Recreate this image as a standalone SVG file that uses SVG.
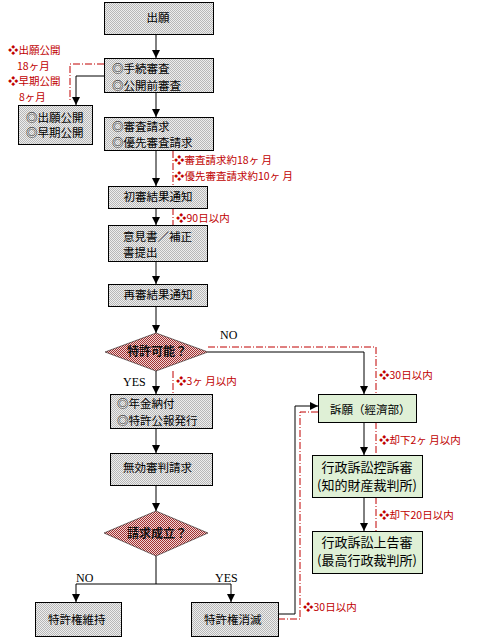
<svg xmlns="http://www.w3.org/2000/svg" width="487" height="638" viewBox="0 0 487 638">
<defs>
<pattern id="gray" width="2" height="2" patternUnits="userSpaceOnUse"><rect width="2" height="2" fill="#eeeeee"/><rect width="1" height="1" fill="#b8b8b8"/><rect x="1" y="1" width="1" height="1" fill="#b8b8b8"/></pattern>
<pattern id="red" width="2" height="2" patternUnits="userSpaceOnUse"><rect width="2" height="2" fill="#f2d6d6"/><rect width="1" height="1" fill="#a03030"/><rect x="1" y="1" width="1" height="1" fill="#a03030"/></pattern>
<marker id="arr" viewBox="0 0 8 8" refX="8" refY="4" markerWidth="8" markerHeight="8" markerUnits="userSpaceOnUse" orient="auto"><path d="M0,0 L8,4 L0,8 z" fill="#000"/></marker>
</defs>
<style>
.box{fill:url(#gray);stroke:#000;stroke-width:1}
.gbox{fill:#dff0d6;stroke:#000;stroke-width:1}
.dia{fill:url(#red);stroke:#000;stroke-width:0.5}
.t{font-family:"Noto Sans CJK JP","Noto Sans CJK TC",sans-serif;font-size:11.5px;fill:#000}
.tc{font-family:"Noto Sans CJK JP","Noto Sans CJK TC",sans-serif;font-size:11.5px;fill:#000;text-anchor:middle}
.tg{font-family:"Noto Sans CJK JP","Noto Sans CJK TC",sans-serif;font-size:13px;fill:#000;text-anchor:middle}
.td{font-family:"Noto Sans CJK JP","Noto Sans CJK TC",sans-serif;font-size:12px;font-weight:bold;fill:#111;text-anchor:middle}
.r{font-family:"Noto Sans CJK JP","Noto Sans CJK TC",sans-serif;font-size:10.5px;fill:#c00000}
.s{font-family:"Liberation Serif",serif;font-size:12px;fill:#000}
.ln{fill:none;stroke:#000;stroke-width:1}
.la{fill:none;stroke:#000;stroke-width:1;marker-end:url(#arr)}
.rd{fill:none;stroke:#c00000;stroke-width:1;stroke-dasharray:7,2,1,2}
</style>
<g id="connectors">
<path class="la" d="M156,34 V58"/>
<path class="la" d="M104,76 H76 V105"/>
<path class="rd" d="M104,64 H70 V102"/>
<path class="la" d="M156,92 V117"/>
<path class="la" d="M156,151 V186"/>
<path class="rd" d="M173,151 V186"/>
<path class="la" d="M156,208 V225"/>
<path class="rd" d="M173,208 V225"/>
<path class="la" d="M156,262 V284"/>
<path class="la" d="M156,306 V333"/>
<path class="la" d="M208,352 H364 V394"/>
<path class="rd" d="M208,347 H376 V394"/>
<path class="la" d="M156,371 V394"/>
<path class="rd" d="M173,371 V394"/>
<path class="la" d="M156,428 V453"/>
<path class="la" d="M156,485 V511"/>
<path class="ln" d="M156,556 V584 M76,584 H231"/>
<path class="la" d="M76,584 V602"/>
<path class="la" d="M231,584 V602"/>
<path class="la" d="M278,614 H295 V406 H318"/>
<path class="rd" d="M278,619 H300 V412 H318"/>
<path class="la" d="M364,422 V455"/>
<path class="rd" d="M376,422 V455"/>
<path class="la" d="M364,497 V531"/>
<path class="rd" d="M376,497 V531"/>
<text class="s" x="220" y="339">NO</text>
<text class="s" x="123" y="386">YES</text>
<text class="s" x="76" y="582">NO</text>
<text class="s" x="215" y="582">YES</text>
<text class="r" x="8" y="54">❖出願公開</text>
<text class="r" x="17" y="69.5">18ヶ月</text>
<text class="r" x="8" y="85">❖早期公開</text>
<text class="r" x="19" y="100.5">8ヶ月</text>
<text class="r" x="174" y="164">❖審査請求約18ヶ 月</text>
<text class="r" x="174" y="179.5">❖優先審査請求約10ヶ 月</text>
<text class="r" x="176" y="222">❖90日以内</text>
<text class="r" x="176" y="385">❖3ヶ 月以内</text>
<text class="r" x="379" y="379">❖30日以内</text>
<text class="r" x="379" y="444">❖却下2ヶ 月以内</text>
<text class="r" x="379" y="519">❖却下20日以内</text>
<text class="r" x="303" y="611">❖30日以内</text>
</g>
<g id="n1"><rect class="box" x="104.5" y="2.5" width="109" height="32"/><text class="tc" x="158" y="22">出願</text></g>
<g id="n2"><rect class="box" x="104.5" y="58.5" width="109" height="34"/><text class="t" x="112" y="73">◎手続審査</text><text class="t" x="112" y="90">◎公開前審査</text></g>
<g id="n3"><rect class="box" x="18.5" y="105.5" width="74" height="39"/><text class="t" x="26" y="122">◎出願公開</text><text class="t" x="26" y="137">◎早期公開</text></g>
<g id="n4"><rect class="box" x="104.5" y="117.5" width="109" height="33"/><text class="t" x="112" y="131">◎審査請求</text><text class="t" x="112" y="147">◎優先審査請求</text></g>
<g id="n5"><rect class="box" x="108.5" y="186.5" width="99" height="22"/><text class="tc" x="158" y="201">初審結果通知</text></g>
<g id="n6"><rect class="box" x="108.5" y="225.5" width="99" height="36"/><text class="t" x="123" y="241">意見書／補正</text><text class="t" x="123" y="257">書提出</text></g>
<g id="n7"><rect class="box" x="108.5" y="284.5" width="99" height="22"/><text class="tc" x="158" y="299">再審結果通知</text></g>
<g id="n8"><polygon class="dia" points="105,352 156,333 208,352 156,371"/><text class="td" x="157" y="356">特許可能？</text></g>
<g id="n9"><rect class="box" x="110.5" y="394.5" width="102" height="34"/><text class="t" x="117" y="408">◎年金納付</text><text class="t" x="117" y="425">◎特許公報発行</text></g>
<g id="n10"><rect class="box" x="110.5" y="453.5" width="102" height="32"/><text class="t" x="123" y="472">無効審判請求</text></g>
<g id="n11"><polygon class="dia" points="104,533 156,511 208,533 156,556"/><text class="td" x="157" y="538">請求成立？</text></g>
<g id="n12"><rect class="box" x="35.5" y="602.5" width="86" height="34"/><text class="t" x="48" y="624">特許権維持</text></g>
<g id="n13"><rect class="box" x="191.5" y="602.5" width="87" height="34"/><text class="t" x="204" y="624">特許権消滅</text></g>
<g id="n14"><rect class="gbox" x="318.5" y="394.5" width="98" height="28"/><text class="t" x="330" y="414">訴願（經濟部）</text></g>
<g id="n15"><rect class="gbox" x="312.5" y="455.5" width="110" height="42"/><text class="tg" x="367" y="472">行政訴訟控訴審</text><text class="tg" x="367" y="490">(知的財産裁判所)</text></g>
<g id="n16"><rect class="gbox" x="312.5" y="531.5" width="110" height="42"/><text class="tg" x="367" y="547">行政訴訟上告審</text><text class="tg" x="367" y="565">(最高行政裁判所)</text></g>
</svg>
